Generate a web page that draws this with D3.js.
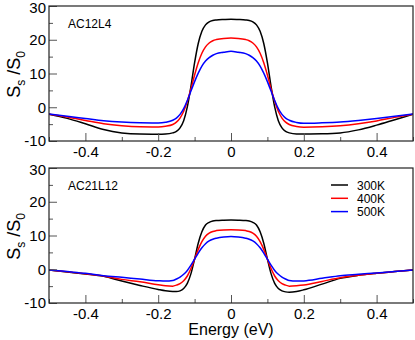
<!DOCTYPE html>
<html>
<head>
<meta charset="utf-8">
<script src="https://cdn.jsdelivr.net/npm/d3@7"></script>
<style>
  body { margin: 0; background: #fff; }
  svg { display: block; font-family: "Liberation Sans", Arial, sans-serif; }
</style>
</head>
<body>
<svg id="chart" width="415" height="340"></svg>
<script>
// ---- data ----
const energy = [-0.5,-0.45,-0.4,-0.35,-0.3,-0.25,-0.2,-0.18,-0.16,-0.15,-0.14,-0.13,-0.12,-0.11,-0.1,-0.09,-0.08,-0.07,-0.06,-0.05,-0.04,-0.02,0,
                0.02,0.04,0.05,0.06,0.07,0.08,0.09,0.1,0.11,0.12,0.13,0.14,0.15,0.16,0.18,0.2,0.25,0.3,0.35,0.4,0.45,0.5];
const temps = ["300K","400K","500K"];
const colors = ["#000000","#ff0000","#0000ff"];

// Panel 1: AC12L4
const ac12_300 = [-2.1,-3.3,-4.9,-6.6,-7.6,-7.95,-8.0,-7.95,-7.6,-7.15,-6.1,-4.0,0.1,6.2,13.2,18.9,22.5,24.4,25.3,25.7,25.85,26.0,26.1,
                  26.0,25.85,25.7,25.3,24.4,22.5,18.9,13.2,6.2,0.1,-4.0,-6.1,-7.15,-7.6,-7.9,-7.9,-7.85,-7.6,-6.7,-5.3,-3.7,-2.1];
const ac12_400 = [-2.1,-2.9,-3.9,-4.9,-5.5,-5.8,-5.85,-5.65,-5.1,-4.4,-3.2,-1.2,1.75,5.46,9.56,13.2,16.0,17.9,19.05,19.7,20.06,20.4,20.5,
                  20.4,20.06,19.7,19.05,17.9,16.0,13.2,9.56,5.46,1.75,-1.2,-3.2,-4.4,-5.1,-5.7,-5.9,-5.8,-5.5,-4.9,-4.05,-3.0,-2.1];
const ac12_500 = [-2.0,-2.7,-3.35,-4.0,-4.4,-4.6,-4.65,-4.45,-3.85,-3.2,-2.1,-0.4,2.0,4.8,7.6,10.1,12.2,13.7,14.7,15.4,15.9,16.3,16.6,
                  16.3,15.9,15.4,14.7,13.7,12.2,10.1,7.6,4.8,2.0,-0.4,-2.1,-3.2,-3.85,-4.5,-4.75,-4.6,-4.35,-3.9,-3.35,-2.7,-2.0];

// Panel 2: AC21L12
const ac21_300 = [-0.2,-0.8,-1.4,-2.1,-3.5,-4.8,-6.0,-6.4,-6.6,-6.6,-6.4,-5.7,-4.2,-1.3,3.0,7.7,11.1,13.1,13.9,14.3,14.45,14.55,14.6,
                  14.55,14.45,14.3,13.9,13.1,11.1,7.7,3.0,-1.3,-4.2,-5.7,-6.4,-6.7,-6.8,-6.6,-6.1,-4.4,-2.7,-1.8,-1.2,-0.7,-0.2];
const ac21_400 = [-0.2,-0.75,-1.3,-2.0,-3.0,-3.7,-4.6,-4.9,-5.0,-4.7,-4.25,-3.4,-2.0,0.2,3.0,5.9,8.2,9.8,10.7,11.2,11.45,11.65,11.7,
                  11.65,11.45,11.2,10.7,9.8,8.2,5.9,3.0,0.2,-2.0,-3.4,-4.25,-4.7,-5.0,-4.9,-4.7,-3.6,-2.5,-1.8,-1.2,-0.7,-0.2];
const ac21_500 = [-0.2,-0.7,-1.2,-1.9,-2.4,-2.9,-3.4,-3.5,-3.35,-2.9,-2.35,-1.5,-0.35,1.2,3.0,4.8,6.36,7.56,8.38,8.9,9.2,9.55,9.7,
                  9.55,9.2,8.9,8.38,7.56,6.36,4.8,3.0,1.2,-0.35,-1.5,-2.35,-2.9,-3.35,-3.5,-3.45,-2.7,-1.9,-1.5,-1.1,-0.7,-0.2];

const panelNames = ["AC12L4","AC21L12"];
const panelSeries = [[ac12_300, ac12_400, ac12_500],[ac21_300, ac21_400, ac21_500]];
const xMajorTicks = [-0.4,-0.2,0,0.2,0.4];
const xMinorTicks = [-0.5,-0.3,-0.1,0.1,0.3,0.5];
const yMajorTicks = [-10,0,10,20,30];
const yMinorTicks = [-5,5,15,25];

// ---- layout ----
const svg = d3.select("#chart");
const left = 49, right = 413;
const panels = [{top: 6, bottom: 141}, {top: 168, bottom: 303}];

const x = d3.scaleLinear().domain([-0.5, 0.5]).range([left, right]);

panels.forEach((p, i) => {
  const y = d3.scaleLinear().domain([-10, 30]).range([p.bottom, p.top]);
  const g = svg.append("g");

  const clipId = "clip" + i;
  svg.append("clipPath").attr("id", clipId)
    .append("rect").attr("x", left).attr("y", p.top)
    .attr("width", right - left).attr("height", p.bottom - p.top);

  const line = d3.line().x((d, k) => x(energy[k])).y(d => y(d)).curve(d3.curveMonotoneX);
  panelSeries[i].forEach((s, j) => {
    g.append("path").datum(s)
      .attr("d", line)
      .attr("fill", "none")
      .attr("stroke", colors[j])
      .attr("stroke-width", 1.5)
      .attr("clip-path", `url(#${clipId})`);
  });

  const xAx = g.append("g").attr("transform", `translate(0,${p.bottom})`)
    .call(d3.axisBottom(x).tickValues(xMajorTicks).tickSize(-8).tickPadding(5));
  const xAxMin = g.append("g").attr("transform", `translate(0,${p.bottom})`)
    .call(d3.axisBottom(x).tickValues(xMinorTicks).tickSize(-4).tickFormat(""));
  const yAx = g.append("g").attr("transform", `translate(${left},0)`)
    .call(d3.axisLeft(y).tickValues(yMajorTicks).tickSize(-8).tickPadding(3));
  const yAxMin = g.append("g").attr("transform", `translate(${left},0)`)
    .call(d3.axisLeft(y).tickValues(yMinorTicks).tickSize(-4).tickFormat(""));
  [xAx, xAxMin, yAx, yAxMin].forEach(a => {
    a.select(".domain").remove();
    a.selectAll(".tick line").attr("stroke", "#555").attr("stroke-width", 1);
    a.selectAll(".tick text").attr("font-size", 15).attr("fill", "#000")
      .attr("font-family", "'Liberation Sans', Arial, sans-serif");
  });
  yAx.selectAll(".tick text").text(d => d < 0 ? "-" + Math.abs(d) : d)
    .attr("dy", d => d === 30 ? "0.42em" : "0.32em");
  xAx.selectAll(".tick text").text(d => d === 0 ? "0" : (d < 0 ? "-" : "") + Math.abs(d).toFixed(1));

  g.append("rect").attr("x", left).attr("y", p.top)
    .attr("width", right - left).attr("height", p.bottom - p.top)
    .attr("fill", "none").attr("stroke", "#222").attr("stroke-width", 1.2);

  g.append("text").attr("x", 68).attr("y", p.top + 22)
    .attr("font-size", 12).text(panelNames[i]);

  const cy = (p.top + p.bottom) / 2 + 1;
  const lab = g.append("text")
    .attr("transform", `translate(20,${cy}) rotate(-90)`)
    .attr("text-anchor", "middle").attr("font-size", 18);
  lab.append("tspan").text("S");
  lab.append("tspan").attr("font-size", 12).attr("dy", 5).text("s");
  lab.append("tspan").attr("dy", -5).text(" /S");
  lab.append("tspan").attr("font-size", 12).attr("dy", 5).text("0");
});

// legend (bottom panel)
const legY = [185, 198.3, 211.6];
temps.forEach((t, j) => {
  svg.append("line").attr("x1", 331).attr("x2", 348)
    .attr("y1", legY[j]).attr("y2", legY[j])
    .attr("stroke", colors[j]).attr("stroke-width", 1.5);
  svg.append("text").attr("x", 357).attr("y", legY[j] + 4.5)
    .attr("font-size", 12).text(t);
});

svg.append("text").attr("x", (left + right) / 2).attr("y", 335)
  .attr("text-anchor", "middle").attr("font-size", 16).text("Energy (eV)");
</script>
</body>
</html>
